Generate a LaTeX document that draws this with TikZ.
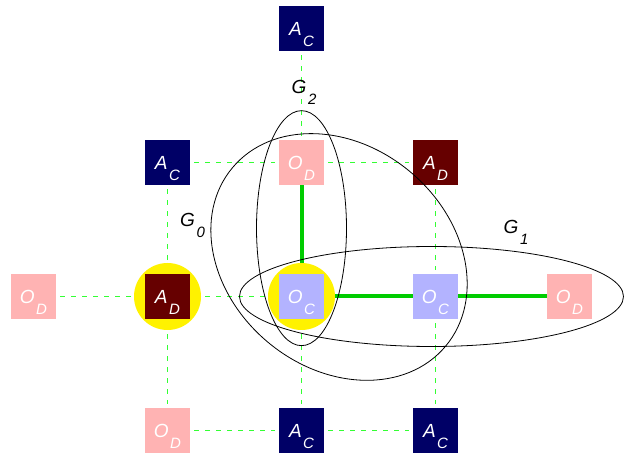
\documentclass[tikz,border=0pt]{standalone}
\usepackage{fontspec}
\setmainfont{Liberation Sans}
\usepackage{xcolor}
\usepackage{tikz}
\usetikzlibrary{positioning, backgrounds}

\definecolor{acblue}{RGB}{0,0,102}
\definecolor{adred}{RGB}{102,0,0}
\definecolor{odpink}{RGB}{255,179,179}
\definecolor{ocblue}{RGB}{179,179,255}
\definecolor{weakgreen}{RGB}{51,255,51}
\definecolor{stronggreen}{RGB}{0,204,0}

\newcommand{\tagsub}[2]{#1\kern1.5pt\raisebox{-11pt}[0pt][0pt]{\fontsize{15}{15}\selectfont #2}}

\begin{document}
\begin{tikzpicture}[
          x=134pt, y=134pt,
          box/.style={rectangle, minimum size=45pt, inner sep=0pt, text=white,
                      font=\fontsize{19}{20}\selectfont\itshape},
          ac/.style={box, fill=acblue},
          ad/.style={box, fill=adred},
          od/.style={box, fill=odpink},
          oc/.style={box, fill=ocblue},
          weak/.style={draw=weakgreen, line width=1.5pt, dash pattern=on 5pt off 6pt,
                       shorten <=4pt, shorten >=4pt},
          strong/.style={draw=stronggreen, line width=4pt},
          mark yellow/.style={circle, fill=yellow, minimum size=67pt, inner sep=0pt},
          group/.style={draw=black, line width=0.8pt},
          glabel/.style={inner sep=0pt, font=\fontsize{19}{20}\selectfont\itshape}
        ]
          \useasboundingbox (-0.25,-0.168) rectangle (4.4067,3.2127);

          % agents and objects
          \node[ac] (act) at (2,3) {\tagsub{A}{C}};
          \node[ac] (acl) at (1,2) {\tagsub{A}{C}};
          \node[od] (odm) at (2,2) {\tagsub{O}{D}};
          \node[ad] (adr) at (3,2) {\tagsub{A}{D}};
          \node[od] (odl) at (0,1) {\tagsub{O}{D}};
          \node[ad] (adl) at (1,1) {\tagsub{A}{D}};
          \node[oc] (ocm) at (2,1) {\tagsub{O}{C}};
          \node[oc] (ocr) at (3,1) {\tagsub{O}{C}};
          \node[od] (odr) at (4,1) {\tagsub{O}{D}};
          \node[od] (odb) at (1,0) {\tagsub{O}{D}};
          \node[ac] (acb) at (2,0) {\tagsub{A}{C}};
          \node[ac] (acr) at (3,0) {\tagsub{A}{C}};

          \begin{scope}[on background layer]
            \draw[weak] (acl) -- (odm);
            \draw[weak] (odm) -- (adr);
            \draw[weak] (odl) -- (adl);
            \draw[weak] (adl) -- (ocm);
            \draw[weak] (odb) -- (acb);
            \draw[weak] (acb) -- (acr);
            \draw[weak] (acl) -- (adl);
            \draw[weak] (adl) -- (odb);
            \draw[weak] (act) -- (odm);
            \draw[weak] (ocm) -- (acb);
            \draw[weak] (adr) -- (ocr);
            \draw[weak] (ocr) -- (acr);
            \draw[strong] (odm) -- (ocm);
            \draw[strong] (ocm) -- (ocr);
            \draw[strong] (ocr) -- (odr);
            % highlighted cells
            \node[mark yellow] (hladl) at (adl) {};
            \node[mark yellow] (hlocm) at (ocm) {};
          \end{scope}

          % groups
          \draw[group] (2,1.51) ellipse [x radius=45pt, y radius=117.5pt];
          \draw[group] (2.97,1) ellipse [x radius=192pt, y radius=50pt];
          \draw[group, shift={(2.28,1.295)}, rotate=-40] (0,0) ellipse [x radius=139pt, y radius=111pt];

          \node[glabel] (g0) at (1.187,1.571) {\tagsub{G}{0}};
          \node[glabel] (g1) at (3.601,1.519) {\tagsub{G}{1}};
          \node[glabel] (g2) at (2.019,2.563) {\tagsub{G}{2}};
        \end{tikzpicture}
\end{document}
